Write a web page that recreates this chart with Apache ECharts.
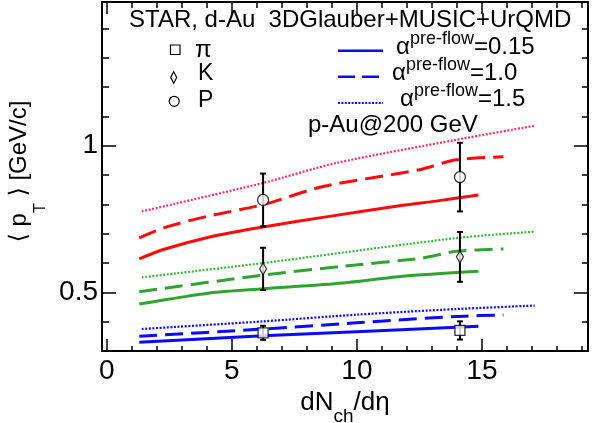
<!DOCTYPE html>
<html><head><meta charset="utf-8">
<script src="https://cdn.jsdelivr.net/npm/echarts@6/dist/echarts.min.js"></script>
<style>html,body{margin:0;padding:0;background:#fff}#c{width:602px;height:423px}</style>
</head><body><div id="c"></div>
<script>
const FONT = "'Liberation Sans', 'DejaVu Sans', sans-serif";

// Axis ticks
const xMajor = [0, 5, 10, 15];
const xMinor = [1, 2, 3, 4, 6, 7, 8, 9, 11, 12, 13, 14, 16, 17, 18, 19];
const yMajor = [0.5, 1];
const yMinor = [0.3, 0.4, 0.6, 0.7, 0.8, 0.9, 1.1, 1.2, 1.3, 1.4];

// STAR d-Au data points
const dataX = [6.25, 14.12];
const pionY = [0.362, 0.370];
const pionErr = [0.024, 0.031];
const kaonY = [0.580, 0.621];
const kaonErr = [0.072, 0.085];
const protonY = [0.815, 0.893];
const protonErr = [0.090, 0.117];

// Model curves [dNch/deta, <pT>]
const redSolid = [[1.3,0.614],[2.26,0.646],[4.12,0.689],[6.25,0.723],[8.9,0.759],[11.83,0.797],[13.16,0.811],[14.86,0.832]];
const redDashed = [[1.3,0.686],[2.39,0.723],[4.0,0.759],[6.25,0.799],[8.64,0.861],[12.5,0.918],[13.96,0.952],[15.86,0.962]];
const redDotted = [[1.4,0.776],[6.25,0.873],[9.17,0.941],[13.96,1.02],[17.11,1.068]];
const greenSolid = [[1.3,0.46],[4.12,0.498],[6.25,0.512],[9.44,0.532],[11.83,0.555],[14.86,0.572]];
const greenDashed = [[1.3,0.502],[6.25,0.559],[9.44,0.589],[12.63,0.617],[13.96,0.64],[15.86,0.648]];
const greenDotted = [[1.4,0.551],[6.25,0.6],[13.96,0.685],[17.11,0.707]];
const blueSolid = [[1.3,0.33],[6.25,0.352],[9.97,0.366],[14.86,0.384]];
const blueDashed = [[1.3,0.35],[6.25,0.375],[9.97,0.396],[13.96,0.418],[15.86,0.423]];
const blueDotted = [[1.4,0.375],[6.25,0.401],[10,0.424],[13.96,0.443],[17.11,0.455]];

const RED = '#ff0a0a', PINK = '#ff2d6e', GREEN = '#2fa52f', LGREEN = '#33bb33', BLUE = '#0a0aff';
const DASH = [18, 8], DOT = [2, 1.6];

const chart = echarts.init(document.getElementById('c'), null, {renderer: 'canvas'});

const XMIN = -0.19, XMAX = 19.24, YMIN = 0.3, YMAX = 1.49;

function xAx(pos, vals, len, opts) {
  return Object.assign({
    type: 'value', position: pos, min: XMIN, max: XMAX,
    axisLine: {show: false, onZero: false},
    axisTick: {show: true, inside: true, length: len, customValues: vals, lineStyle: {color: '#000', width: 1.5}},
    axisLabel: {show: false},
    splitLine: {show: false}
  }, opts || {});
}
function yAx(pos, vals, len, opts) {
  return Object.assign({
    type: 'value', position: pos, min: YMIN, max: YMAX,
    axisLine: {show: false, onZero: false},
    axisTick: {show: true, inside: true, length: len, customValues: vals, lineStyle: {color: '#000', width: 1.5}},
    axisLabel: {show: false},
    splitLine: {show: false}
  }, opts || {});
}

function lineSeries(name, data, color, type, width) {
  return {
    name: name, type: 'line', data: data, showSymbol: false, smooth: 0.25,
    xAxisIndex: 0, yAxisIndex: 0, z: 3,
    lineStyle: {color: color, type: type, width: width}
  };
}

function errSeries(name, ys, errs) {
  return {
    name: name + ' err', type: 'custom', xAxisIndex: 0, yAxisIndex: 0, z: 5,
    data: dataX.map((x, i) => [x, ys[i] - errs[i], ys[i] + errs[i]]),
    renderItem: function (params, api) {
      const lo = api.coord([api.value(0), api.value(1)]);
      const hi = api.coord([api.value(0), api.value(2)]);
      const c = 3;
      const st = {stroke: '#000', lineWidth: 2};
      return {type: 'group', children: [
        {type: 'line', shape: {x1: lo[0], y1: lo[1], x2: hi[0], y2: hi[1]}, style: st},
        {type: 'line', shape: {x1: lo[0]-c, y1: lo[1], x2: lo[0]+c, y2: lo[1]}, style: st},
        {type: 'line', shape: {x1: hi[0]-c, y1: hi[1], x2: hi[0]+c, y2: hi[1]}, style: st}
      ]};
    }
  };
}
function markSeries(name, ys, symbol, size) {
  return {
    name: name, type: 'scatter', xAxisIndex: 0, yAxisIndex: 0, z: 6,
    data: dataX.map((x, i) => [x, ys[i]]),
    symbol: symbol, symbolSize: size,
    itemStyle: {color: '#fff', borderColor: '#000', borderWidth: 1.3}
  };
}

const TXT = {fontFamily: FONT, fill: '#000'};
function alphaText(x, y, val) {
  return {
    type: 'text', left: x, top: y, z: 10,
    style: {
      text: '{a|α}{s|pre-flow}{a|=' + val + '}',
      fontFamily: FONT, fill: '#000',
      rich: {
        a: {fontFamily: FONT, fontSize: 24, lineHeight: 34, color: '#000'},
        s: {fontFamily: FONT, fontSize: 18, verticalAlign: 'top', color: '#000'}
      }
    }
  };
}
function sample(y, type) {
  return {type: 'line', z: 10, shape: {x1: 338, y1: y, x2: 383, y2: y},
          style: {stroke: BLUE, lineWidth: type === 'dot' ? 2 : 2.5,
                  lineDash: type === 'solid' ? null : (type === 'dash' ? [17, 7] : [2, 1.4])}};
}

const option = {
  animation: false,
  backgroundColor: '#fff',
  grid: {left: 102, right: 14, top: 2, bottom: 72, containLabel: false, outerBoundsMode: 'none',
         show: true, borderColor: '#000', borderWidth: 2, backgroundColor: 'transparent'},
  xAxis: [
    xAx('bottom', xMajor, 12, {
      name: '{a|dN}{s|ch}{a|/dη}', nameLocation: 'middle', nameGap: 24,
      nameTextStyle: {rich: {
        a: {fontFamily: FONT, fontSize: 26, lineHeight: 46, color: '#000'},
        s: {fontFamily: FONT, fontSize: 19, verticalAlign: 'bottom', color: '#000'}
      }},
      axisLabel: {show: true, customValues: xMajor, fontFamily: FONT, fontSize: 28, color: '#000', margin: 6}
    }),
    xAx('bottom', xMinor, 5),
    xAx('top', xMajor, 12),
    xAx('top', xMinor, 6)
  ],
  yAxis: [
    yAx('left', yMajor, 14, {
      name: '{a|⟨ p}{s|T}{a| ⟩ [GeV/c]}', nameLocation: 'middle', nameGap: 37,
      nameTextStyle: {padding: [0, 0, 0, 10], rich: {
        a: {fontFamily: FONT, fontSize: 24, lineHeight: 58, color: '#000'},
        s: {fontFamily: FONT, fontSize: 16, verticalAlign: 'bottom', color: '#000'}
      }},
      axisLabel: {show: true, customValues: yMajor, fontFamily: FONT, fontSize: 28, color: '#000', margin: 4,
                  formatter: v => (v === 1 ? '1' : String(v))}
    }),
    yAx('left', yMinor, 7),
    yAx('right', yMajor, 14),
    yAx('right', yMinor, 6)
  ],
  graphic: [
    {type: 'text', left: 129, top: 8, z: 10, style: Object.assign({text: 'STAR, d-Au  3DGlauber+MUSIC+UrQMD', fontSize: 24}, TXT)},
    {type: 'rect', z: 10, shape: {x: 170.5, y: 45, width: 9.5, height: 9.5}, style: {fill: '#fff', stroke: '#000', lineWidth: 1.2}},
    {type: 'text', left: 195, top: 38, z: 10, style: Object.assign({text: 'π', fontSize: 24}, TXT)},
    {type: 'polygon', z: 10, shape: {points: [[173.7, 71.7], [176.7, 77.5], [173.7, 83.3], [170.7, 77.5]]}, style: {fill: '#fff', stroke: '#000', lineWidth: 1.2}},
    {type: 'text', left: 198, top: 62, z: 10, style: Object.assign({text: 'K', fontSize: 23}, TXT)},
    {type: 'circle', z: 10, shape: {cx: 174.2, cy: 101.3, r: 5}, style: {fill: '#fff', stroke: '#000', lineWidth: 1.2}},
    {type: 'text', left: 198, top: 89, z: 10, style: Object.assign({text: 'P', fontSize: 23}, TXT)},
    sample(50.7, 'solid'), sample(76.7, 'dash'), sample(103, 'dot'),
    alphaText(396, 30, '0.15'),
    alphaText(392, 56, '1.0'),
    alphaText(400, 82, '1.5'),
    {type: 'text', left: 308, top: 113, z: 10, style: Object.assign({text: 'p-Au@200 GeV', fontSize: 24}, TXT)}
  ],
  series: [
    lineSeries('P α=1.5', redDotted, PINK, DOT, 2.2),
    lineSeries('P α=1.0', redDashed, RED, DASH, 3),
    lineSeries('P α=0.15', redSolid, RED, 'solid', 3),
    lineSeries('K α=1.5', greenDotted, LGREEN, DOT, 2.2),
    lineSeries('K α=1.0', greenDashed, GREEN, DASH, 3),
    lineSeries('K α=0.15', greenSolid, GREEN, 'solid', 3),
    lineSeries('π α=1.5', blueDotted, BLUE, DOT, 2.2),
    lineSeries('π α=1.0', blueDashed, BLUE, DASH, 3),
    lineSeries('π α=0.15', blueSolid, BLUE, 'solid', 3),
    errSeries('π', pionY, pionErr),
    errSeries('K', kaonY, kaonErr),
    errSeries('P', protonY, protonErr),
    markSeries('π', pionY, 'rect', [10, 10]),
    markSeries('K', kaonY, 'diamond', [7, 12]),
    markSeries('P', protonY, 'circle', 11)
  ]
};
chart.setOption(option);
</script></body></html>
